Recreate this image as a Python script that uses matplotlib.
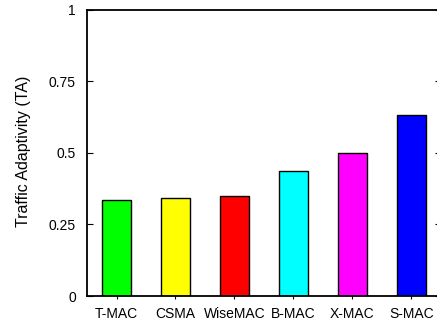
import matplotlib
matplotlib.use("Agg")
import matplotlib.pyplot as plt

protocols = ["T-MAC", "CSMA", "WiseMAC", "B-MAC", "X-MAC", "S-MAC"]
adaptivity = [0.336, 0.342, 0.350, 0.436, 0.499, 0.633]
bar_colors = ["#00ff00", "#ffff00", "#ff0000", "#00ffff", "#ff00ff", "#0000ff"]
y_ticks = [0, 0.25, 0.5, 0.75, 1]
y_tick_labels = ["0", "0.25", "0.5", "0.75", "1"]

plt.rcParams["font.family"] = ["Liberation Sans", "DejaVu Sans"]

fig = plt.figure(figsize=(4.37, 3.2), dpi=100)
ax = fig.add_axes([0.1991, 0.075, 0.81, 0.894])

x = range(len(protocols))
ax.bar(x, adaptivity, width=0.5, color=bar_colors, edgecolor="black", linewidth=1.0)

ax.set_xlim(-0.5, 5.5)
ax.set_ylim(0, 1)
ax.set_xticks(list(x))
ax.set_xticklabels(protocols, fontsize=10)
ax.set_yticks(y_ticks)
ax.set_yticklabels(y_tick_labels, fontsize=10)

ax.tick_params(axis="y", direction="in", length=4, width=0.8, pad=8, right=True)
ax.tick_params(axis="x", direction="out", length=2, width=0.8, pad=6)

for side in ["left", "bottom", "top", "right"]:
    ax.spines[side].set_linewidth(1.3)
    ax.spines[side].set_color("black")

ax.set_ylabel("Traffic Adaptivity (TA)", fontsize=11.5)
ax.yaxis.set_label_coords(-0.157, 0.505)

fig.savefig("out.png", dpi=100)
